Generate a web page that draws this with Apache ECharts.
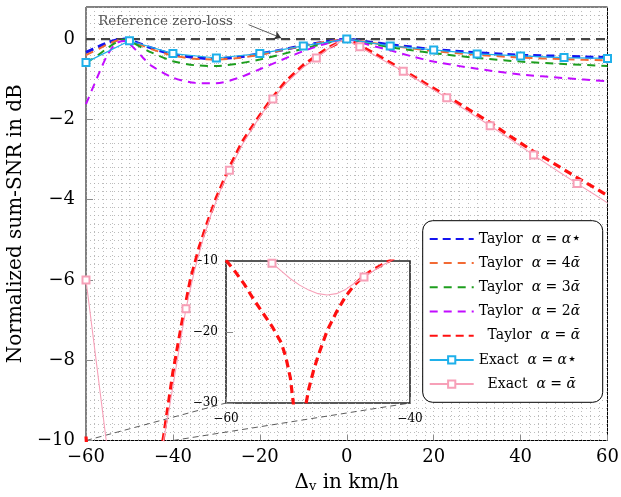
<!DOCTYPE html>
<html><head><meta charset="utf-8">
<script src="https://cdn.jsdelivr.net/npm/echarts/dist/echarts.min.js"></script>
<style>html,body{margin:0;padding:0;background:#fff}#c{width:621px;height:497px}</style>
</head><body><div id="c"></div>
<script>
// ---------------- data ----------------
const seriesNames = ['Taylor α=α⋆','Taylor α=4ᾱ','Taylor α=3ᾱ','Taylor α=2ᾱ','Taylor α=ᾱ','Exact α=α⋆','Exact α=ᾱ'];

const xTaylor   = [-60,-57,-55,-53,-51,-49,-47,-45,-40,-35,-30,-25,-20,-15,-10,-5,0,5,10,15,20,30,40,50,60];
const taylorStar= [-0.33,-0.18,-0.09,-0.02,0.0,-0.06,-0.14,-0.22,-0.38,-0.46,-0.49,-0.45,-0.37,-0.27,-0.16,-0.07,0.0,-0.07,-0.14,-0.2,-0.26,-0.34,-0.4,-0.43,-0.46];
const taylor4   = [-0.4,-0.24,-0.13,-0.04,0.0,-0.07,-0.16,-0.25,-0.41,-0.49,-0.51,-0.47,-0.39,-0.28,-0.17,-0.07,0.0,-0.08,-0.16,-0.23,-0.3,-0.39,-0.46,-0.5,-0.53];
const taylor3   = [-0.6,-0.38,-0.22,-0.08,-0.01,-0.1,-0.22,-0.33,-0.55,-0.65,-0.67,-0.61,-0.51,-0.38,-0.24,-0.11,0.0,-0.1,-0.2,-0.28,-0.35,-0.47,-0.56,-0.62,-0.67];
const taylor2   = [-1.62,-0.85,-0.38,-0.1,-0.05,-0.22,-0.45,-0.66,-0.96,-1.09,-1.1,-0.97,-0.75,-0.52,-0.3,-0.12,0.0,-0.14,-0.28,-0.43,-0.56,-0.74,-0.88,-0.97,-1.05];

const xTaylor1  = [-60,-59,-58,-57,-56,-55,-54,-53.5,-53,-52.6,-52,-51.5,-51,-50.5,-50,-49,-48,-47,-46,-45,-44,-43,-42,-40,-38,-36,-34,-32,-30,-27,-24,-20,-17,-14,-10,-7,-4,0,3,7,13,18,23,28,33,38,43,48,53,57,60];
const taylor1   = [-9.9,-11.5,-13.3,-15.4,-17.3,-19.2,-21.5,-23.5,-26.5,-31,-36,-31.5,-28,-25.5,-23.4,-19.8,-17.2,-15.0,-13.3,-12.1,-11.2,-10.5,-9.8,-8.3,-7.1,-6.0,-5.2,-4.55,-3.95,-3.2,-2.55,-1.9,-1.45,-1.05,-0.65,-0.42,-0.2,0.0,-0.16,-0.4,-0.78,-1.1,-1.42,-1.75,-2.08,-2.45,-2.8,-3.12,-3.45,-3.7,-3.9];

const xExactStar = [-60,-50,-40,-30,-20,-10,0,10,20,30,40,50,60];
const exactStar  = [-0.58,-0.04,-0.36,-0.47,-0.36,-0.17,0.0,-0.17,-0.27,-0.37,-0.42,-0.46,-0.48];

const xExact1 = [-60,-55,-54,-53,-52,-51,-50,-49,-48,-47,-46,-45,-44,-43,-42,-41,-40,-39,-38,-37,-35,-33,-31,-29,-27,-24,-21,-19,-17,-14,-10,-7,-4,-1,0,3,8,13,18,23,28,33,38,43,48,53,57,60];
const exact1  = [-6.0,-10.3,-11.4,-12.5,-13.4,-14.1,-14.6,-14.8,-14.6,-14.0,-13.1,-12.25,-11.4,-10.6,-9.9,-9.3,-8.65,-8.0,-7.35,-6.72,-5.75,-4.95,-4.3,-3.75,-3.27,-2.62,-2.1,-1.78,-1.49,-1.1,-0.7,-0.47,-0.22,-0.03,-0.02,-0.19,-0.5,-0.8,-1.13,-1.46,-1.81,-2.16,-2.52,-2.89,-3.25,-3.6,-3.87,-4.08];
const exact1MarkX = [-60,-55,-45,-37,-27,-17,-7,3,13,23,33,43,53];

const referenceLevel = 0;
const zoomBox = {x:[-60,-40], y:[-30,-10]};

// ---------------- style / layout ----------------
const F = 'DejaVu Serif';
const C = {blue:'#1414f0', orange:'#f26a34', green:'#1e9e1e', purple:'#c20cff', red:'#ff1010', cyan:'#1fb0ea', pink:'#f7a0b8'};
const dot = {type:[1,3], color:'#ababab', width:0.8};
const annoText = [-57.2, 0.45];
const arrowFrom = [-22.6, 0.36], arrowTo = [-15.1, 0.03];

function pairs(xs, ys){ return xs.map((x,i)=>[x, ys[i]]); }
function fmtStep(step){
  return v => {
    if (Math.abs(v/step - Math.round(v/step)) > 1e-6) return '';
    return v < 0 ? '\u2212' + Math.abs(Math.round(v)) : String(Math.round(v));
  };
}
const exact1Data = xExact1.map((x,i)=>({value:[x, exact1[i]], symbol: exact1MarkX.includes(x) ? 'emptyRect' : 'none'}));

function taylorSeries(name, xs, ys, color, width, dash, extra){
  return Object.assign({
    name, type:'line', data: pairs(xs, ys), symbol:'none', smooth:0.25,
    lineStyle:{color, width, type:dash}, itemStyle:{color}, clip:true, z:3
  }, extra||{});
}

const legendLabels = {
  'Taylor α=α⋆': '{t|Taylor  }{a|α}{t| = }{a|α}{s|⋆}',
  'Taylor α=4ᾱ': '{t|Taylor  }{a|α}{t| = 4}{a|ᾱ}',
  'Taylor α=3ᾱ': '{t|Taylor  }{a|α}{t| = 3}{a|ᾱ}',
  'Taylor α=2ᾱ': '{t|Taylor  }{a|α}{t| = 2}{a|ᾱ}',
  'Taylor α=ᾱ':  '{t|  Taylor  }{a|α}{t| = }{a|ᾱ}',
  'Exact α=α⋆':  '{t|Exact  }{a|α}{t| = }{a|α}{s|⋆}',
  'Exact α=ᾱ':   '{t|  Exact  }{a|α}{t| = }{a|ᾱ}'
};
const hiddenSym = {opacity:0, color:'rgba(0,0,0,0)', borderColor:'rgba(0,0,0,0)', borderWidth:0};
const legendData = seriesNames.map((n,i)=> i < 5 ? {name:n, itemStyle:hiddenSym} : {name:n});

const chart = echarts.init(document.getElementById('c'), null, {renderer:'canvas'});
const option = {
  animation:false,
  backgroundColor:'#fff',
  grid:[
    {left:86, right:13.5, top:7, bottom:56.5, show:true, borderColor:'#000', borderWidth:1, backgroundColor:'transparent', containLabel:false, outerBoundsMode:'none'},
    {left:226, top:261, width:184, height:142, show:true, borderColor:'#222', borderWidth:1.6, backgroundColor:'transparent', containLabel:false, outerBoundsMode:'none'}
  ],
  xAxis:[
    {gridIndex:0, type:'value', min:-60, max:60, interval:20, position:'bottom',
     axisLine:{show:false, onZero:false},
     axisTick:{show:true, inside:true, length:6, lineStyle:{color:'#8a8a8a', width:1}},
     axisLabel:{margin:8, color:'#000', fontFamily:F, fontSize:18, formatter:fmtStep(20)},
     splitLine:{show:true, lineStyle:dot},
     minorTick:{show:false, splitNumber:10},
     minorSplitLine:{show:true, lineStyle:dot},
     name:'{t|Δ}{sub|v}{t| in km/h}', nameLocation:'middle', nameGap:31,
     nameTextStyle:{rich:{t:{fontFamily:F, fontSize:20, color:'#000'}, sub:{fontFamily:F, fontSize:13, color:'#000', padding:[9,0,0,0]}}}
    },
    {gridIndex:1, type:'value', min:zoomBox.x[0], max:zoomBox.x[1], interval:20, position:'bottom',
     axisLine:{show:false, onZero:false},
     axisTick:{show:true, inside:true, length:6, lineStyle:{color:'#8a8a8a'}},
     axisLabel:{margin:10, color:'#000', fontFamily:F, fontSize:12, formatter:fmtStep(20)},
     splitLine:{show:false}
    }
  ],
  yAxis:[
    {gridIndex:0, type:'value', position:'left', min:-10, max:0.8, interval:2,
     axisLine:{show:false, onZero:false},
     axisTick:{show:true, inside:true, length:7, lineStyle:{color:'#8a8a8a', width:1}},
     axisLabel:{margin:11, color:'#000', fontFamily:F, fontSize:18, formatter:fmtStep(2)},
     splitLine:{show:false},
     name:'Normalized sum-SNR in dB', nameLocation:'middle', nameGap:52,
     nameTextStyle:{fontFamily:F, fontSize:20, color:'#000'}
    },
    {gridIndex:0, type:'value', position:'left', min:-10, max:0.8, interval:0.2,
     axisLine:{show:false, onZero:false}, axisTick:{show:false}, axisLabel:{show:false},
     splitLine:{show:true, lineStyle:dot}
    },
    {gridIndex:1, type:'value', position:'left', min:zoomBox.y[0], max:zoomBox.y[1], interval:10,
     axisLine:{show:false, onZero:false},
     axisTick:{show:true, inside:true, length:7, lineStyle:{color:'#8a8a8a'}},
     axisLabel:{margin:8, color:'#000', fontFamily:F, fontSize:12, formatter:fmtStep(10)},
     splitLine:{show:false}
    }
  ],
  legend:{
    data:legendData, orient:'vertical', left:422.7, top:220.7,
    itemWidth:44, itemHeight:9, itemGap:8.2, itemTextGap:10,
    padding:[10.2,8,10.2,6], backgroundColor:'#fff', borderColor:'#000', borderWidth:1, borderRadius:10,
    formatter: n => legendLabels[n] || n,
    textStyle:{width:116, color:'#000', fontFamily:F, fontSize:14, lineHeight:16,
      rich:{t:{fontFamily:F, fontSize:14, lineHeight:16, color:'#000'},
            a:{fontFamily:F, fontSize:14, lineHeight:16, fontStyle:'italic', color:'#000'},
            s:{fontFamily:'DejaVu Sans', fontSize:16, lineHeight:10, verticalAlign:'top', color:'#000'}}},
    selectedMode:false, z:10
  },
  series:[
    {name:'ref', type:'line', data: pairs([-60,60],[referenceLevel,referenceLevel]), symbol:'none', silent:true,
     lineStyle:{color:'#444', width:2.2, type:[9,6]}, z:2,
     markLine:{silent:true, symbol:['none','arrow'], symbolSize:7, label:{show:false},
       lineStyle:{type:'solid', color:'#333', width:0.8},
       data:[[{coord:arrowFrom},{coord:arrowTo}]]}},
    {id:'spy1', name:'spy1', type:'line', data:[], symbol:'none', silent:true, lineStyle:{color:'#333', width:0.8, type:[6,4]}, z:2},
    {id:'spy2', name:'spy2', type:'line', data:[], symbol:'none', silent:true, lineStyle:{color:'#333', width:0.8, type:[6,4]}, z:2},
    taylorSeries(seriesNames[0], xTaylor, taylorStar, C.blue, 3, [8,5]),
    taylorSeries(seriesNames[1], xTaylor, taylor4, C.orange, 2, [8,6]),
    taylorSeries(seriesNames[2], xTaylor, taylor3, C.green, 2, [8,6]),
    taylorSeries(seriesNames[3], xTaylor, taylor2, C.purple, 2, [8,6]),
    taylorSeries(seriesNames[4], xTaylor1, taylor1, C.red, 3.2, [8,5], {smooth:false}),
    {name:seriesNames[5], type:'line', data:pairs(xExactStar, exactStar), symbol:'emptyRect', symbolSize:7,
     lineStyle:{color:C.cyan, width:1.2}, itemStyle:{color:C.cyan, borderWidth:1}, z:4},
    {name:seriesNames[6], type:'line', data:exact1Data, symbol:'emptyRect', symbolSize:7,
     lineStyle:{color:C.pink, width:1.1}, itemStyle:{color:C.pink, borderWidth:1}, z:4},
    // inset copies
    taylorSeries(seriesNames[4], xTaylor1, taylor1, C.red, 3.2, [8,5], {smooth:false, xAxisIndex:1, yAxisIndex:2}),
    {name:seriesNames[6], type:'line', xAxisIndex:1, yAxisIndex:2, data:exact1Data, symbol:'emptyRect', symbolSize:7,
     lineStyle:{color:C.pink, width:1.1}, itemStyle:{color:C.pink, borderWidth:1}, z:4}
  ]
};
chart.setOption(option);

// spy lines + annotation via library coordinate conversion
const insetBL = chart.convertToPixel({xAxisIndex:1, yAxisIndex:2}, [zoomBox.x[0], zoomBox.y[0]]);
const insetBR = chart.convertToPixel({xAxisIndex:1, yAxisIndex:2}, [zoomBox.x[1], zoomBox.y[0]]);
const mBL = chart.convertFromPixel({xAxisIndex:0, yAxisIndex:0}, insetBL);
const mBR = chart.convertFromPixel({xAxisIndex:0, yAxisIndex:0}, insetBR);
const tp = chart.convertToPixel({xAxisIndex:0, yAxisIndex:0}, annoText);
chart.setOption({
  series:[
    {id:'spy1', data:[[zoomBox.x[0], zoomBox.y[1]], mBL]},
    {id:'spy2', data:[[zoomBox.x[1], zoomBox.y[1]], mBR]}
  ],
  graphic:[{type:'text', x:tp[0], y:tp[1], z:5, silent:true,
    style:{text:'Reference zero-loss', fontFamily:F, fontSize:13.5, fill:'#555', align:'left', verticalAlign:'middle'}}]
});
</script></body></html>
